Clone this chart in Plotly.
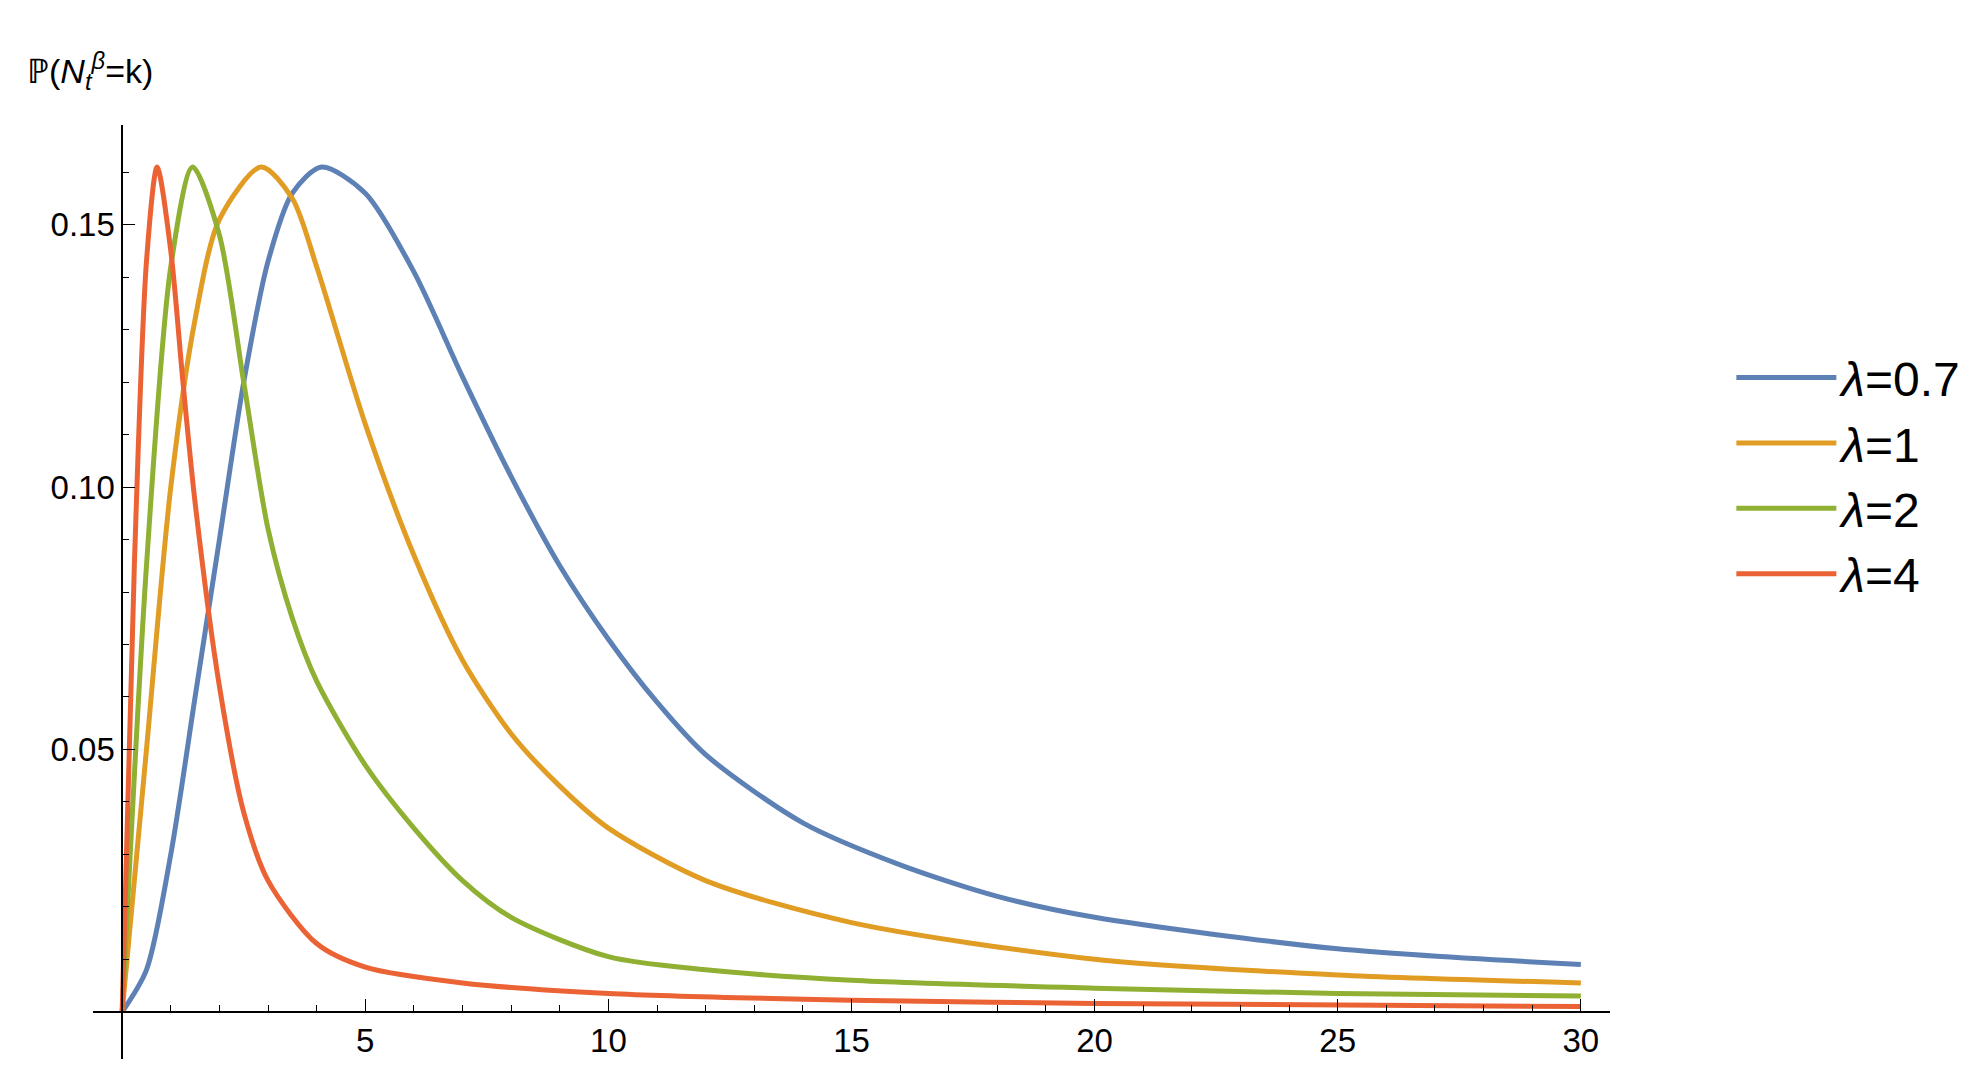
import plotly.graph_objects as go

t_blue = [0, 0.5, 1, 1.5, 2, 2.5, 3, 3.5, 4.1, 5, 6, 7, 8, 9, 10, 11, 12, 14, 16, 18, 20, 25, 30]
p_blue = [0, 0.008, 0.03, 0.06, 0.09, 0.12, 0.143, 0.156, 0.161, 0.156, 0.141, 0.121, 0.102, 0.085, 0.071, 0.059, 0.049, 0.036, 0.028, 0.022, 0.018, 0.012, 0.009]
t_orange = [0, 0.5, 1, 1.5, 2, 2.86, 3.5, 4, 5, 6, 7, 8, 9, 10, 12, 15, 20, 25, 30]
p_orange = [0, 0.05, 0.1, 0.132, 0.151, 0.161, 0.155, 0.142, 0.112, 0.087, 0.067, 0.053, 0.043, 0.035, 0.025, 0.017, 0.010, 0.007, 0.0055]
t_green = [0, 0.5, 1, 1.45, 2, 2.5, 3, 3.5, 4, 5, 6, 7, 8, 10, 12, 15, 20, 25, 30]
p_green = [0, 0.085, 0.142, 0.161, 0.148, 0.12, 0.092, 0.075, 0.063, 0.047, 0.035, 0.025, 0.018, 0.0105, 0.008, 0.006, 0.0045, 0.0035, 0.003]
t_red = [0, 0.25, 0.5, 0.72, 1, 1.25, 1.5, 2, 2.5, 3, 4, 5, 7, 10, 15, 20, 30]
p_red = [0, 0.085, 0.143, 0.161, 0.145, 0.12, 0.097, 0.062, 0.038, 0.025, 0.013, 0.0085, 0.0055, 0.0035, 0.0022, 0.0016, 0.001]
names = ["<i>λ</i>=0.7", "<i>λ</i>=1", "<i>λ</i>=2", "<i>λ</i>=4"]
colors = ["#5E81B5", "#E19C24", "#8FB032", "#EB6235"]

fig = go.Figure()
for t, p, n, c in zip([t_blue, t_orange, t_green, t_red], [p_blue, p_orange, p_green, p_red], names, colors):
    fig.add_trace(go.Scatter(x=t, y=p, mode="lines", name=n,
                             line=dict(color=c, width=5, shape="spline", smoothing=0.8)))

xr = [-0.6, 30.6]
yr = [-0.009, 0.169]
fig.update_layout(
    width=1976, height=1070, plot_bgcolor="white", paper_bgcolor="white",
    margin=dict(l=85, r=374, t=117, b=19),
    font=dict(family="Liberation Sans, Arial", color="black", size=33),
    legend=dict(x=1.08, y=0.77, yanchor="top", font=dict(size=48),
                tracegroupgap=0, itemwidth=100, itemsizing="constant"),
    xaxis=dict(range=xr, anchor="free", position=(0 - yr[0]) / (yr[1] - yr[0]),
               showline=True, linecolor="black", linewidth=1.5, showgrid=False, zeroline=False,
               tickvals=[5, 10, 15, 20, 25, 30], ticks="inside", ticklen=12, tickcolor="black",
               minor=dict(dtick=1, ticks="inside", ticklen=6, tickcolor="black", showgrid=False)),
    yaxis=dict(range=yr, anchor="free", position=(0 - xr[0]) / (xr[1] - xr[0]),
               showline=True, linecolor="black", linewidth=1.5, showgrid=False, zeroline=False,
               tickvals=[0.05, 0.10, 0.15], ticktext=["0.05", "0.10", "0.15"],
               ticks="inside", ticklen=12, tickcolor="black",
               minor=dict(dtick=0.01, ticks="inside", ticklen=6, tickcolor="black", showgrid=False)),
    annotations=[
        dict(text="ℙ(<i>N</i><sub><i>t</i></sub><sup><i>β</i></sup>=k)", xref="paper", yref="paper",
             x=-0.045, y=1.03, xanchor="left", yanchor="bottom", showarrow=False, font=dict(size=34)),
        dict(text="t", xref="x", yref="y", x=31.4, y=0, xanchor="center", yanchor="middle",
             showarrow=False, font=dict(size=34)),
    ],
)
fig.write_html("out.html")
